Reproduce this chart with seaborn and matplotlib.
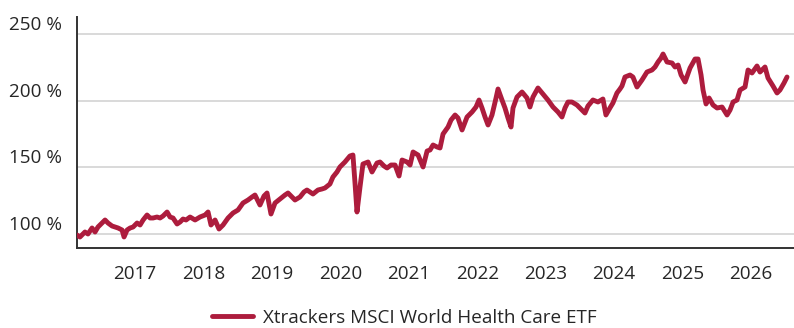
import matplotlib
matplotlib.use("Agg")
import matplotlib.pyplot as plt
import matplotlib.dates as mdates
import matplotlib.transforms as mtransforms
from matplotlib.ticker import FuncFormatter
import numpy as np
import pandas as pd
import seaborn as sns

# Fund performance, indexed to 100 % at inception (time given as decimal years)
series_name = "Xtrackers MSCI World Health Care ETF"
years = [
    2016.153, 2016.196, 2016.269, 2016.313, 2016.372, 2016.416, 2016.459, 2016.518,
    2016.562, 2016.605, 2016.664, 2016.708, 2016.752, 2016.810, 2016.839, 2016.883,
    2016.927, 2016.971, 2017.029, 2017.073, 2017.117, 2017.175, 2017.219, 2017.263,
    2017.321, 2017.365, 2017.409, 2017.468, 2017.511, 2017.555, 2017.614, 2017.658,
    2017.701, 2017.745, 2017.804, 2017.877, 2017.950, 2018.023, 2018.067, 2018.110,
    2018.169, 2018.227, 2018.286, 2018.359, 2018.432, 2018.505, 2018.578, 2018.651,
    2018.710, 2018.753, 2018.826, 2018.885, 2018.929, 2018.987, 2019.046, 2019.119,
    2019.192, 2019.236, 2019.294, 2019.338, 2019.411, 2019.469, 2019.513, 2019.601,
    2019.674, 2019.732, 2019.776, 2019.849, 2019.893, 2019.952, 2019.995, 2020.068,
    2020.141, 2020.185, 2020.215, 2020.244, 2020.288, 2020.331, 2020.405, 2020.463,
    2020.536, 2020.580, 2020.638, 2020.682, 2020.741, 2020.799, 2020.857, 2020.901,
    2020.974, 2021.018, 2021.062, 2021.135, 2021.208, 2021.267, 2021.310, 2021.354,
    2021.413, 2021.456, 2021.500, 2021.573, 2021.617, 2021.676, 2021.719, 2021.778,
    2021.851, 2021.924, 2021.982, 2022.026, 2022.070, 2022.114, 2022.158, 2022.216,
    2022.275, 2022.304, 2022.362, 2022.406, 2022.450, 2022.494, 2022.523, 2022.582,
    2022.655, 2022.728, 2022.771, 2022.815, 2022.888, 2022.961, 2023.034, 2023.108,
    2023.181, 2023.239, 2023.283, 2023.327, 2023.385, 2023.458, 2023.531, 2023.575,
    2023.619, 2023.692, 2023.765, 2023.838, 2023.882, 2023.940, 2023.984, 2024.043,
    2024.087, 2024.116, 2024.160, 2024.233, 2024.276, 2024.335, 2024.408, 2024.481,
    2024.554, 2024.598, 2024.642, 2024.686, 2024.715, 2024.773, 2024.846, 2024.890,
    2024.934, 2024.978, 2025.036, 2025.109, 2025.182, 2025.226, 2025.270, 2025.299,
    2025.343, 2025.387, 2025.445, 2025.504, 2025.577, 2025.650, 2025.694, 2025.738,
    2025.796, 2025.840, 2025.913, 2025.957, 2026.015, 2026.088, 2026.132, 2026.205,
    2026.249, 2026.322, 2026.381, 2026.424, 2026.483, 2026.527,
]
performance = [
    99.25, 97.75, 101.5, 100.0, 104.5, 101.5, 105.25, 108.25,
    110.5, 108.25, 106.0, 105.25, 104.5, 103.0, 97.75, 103.0,
    104.5, 105.25, 108.25, 106.75, 110.5, 114.25, 112.0, 112.0,
    112.75, 112.0, 113.5, 116.5, 112.75, 112.0, 107.5, 109.0,
    111.25, 110.5, 112.75, 110.5, 112.75, 114.25, 116.5, 106.75,
    110.5, 103.75, 106.75, 112.0, 115.75, 118.0, 123.25, 125.5,
    127.75, 129.25, 121.75, 128.5, 130.75, 115.0, 123.25, 126.25,
    129.25, 130.75, 127.75, 125.5, 127.75, 131.5, 133.0, 130.0,
    133.0, 133.75, 134.5, 137.5, 142.75, 146.5, 150.25, 154.0,
    158.5, 159.25, 138.25, 116.5, 135.25, 152.5, 154.0, 146.5,
    153.25, 154.0, 151.0, 149.5, 151.75, 151.75, 143.5, 155.5,
    154.0, 151.75, 161.5, 159.25, 150.25, 162.25, 163.0, 166.75,
    165.25, 164.5, 175.0, 180.25, 185.5, 189.25, 187.0, 178.0,
    187.75, 191.5, 195.25, 200.5, 194.5, 187.75, 181.75, 189.25,
    202.0, 208.75, 200.5, 194.5, 187.0, 180.25, 194.5, 202.75,
    206.5, 202.0, 195.25, 202.75, 209.5, 205.0, 200.5, 195.25,
    191.5, 187.75, 194.5, 199.0, 199.0, 196.75, 193.0, 190.75,
    196.0, 200.5, 199.0, 201.25, 189.25, 194.5, 198.25, 205.75,
    208.75, 211.0, 217.75, 219.25, 217.75, 210.25, 215.5, 221.5,
    223.0, 225.25, 229.0, 232.0, 235.0, 229.0, 228.25, 225.25,
    226.75, 219.25, 214.0, 224.5, 231.25, 231.25, 219.25, 208.0,
    197.5, 202.0, 196.75, 194.5, 195.25, 189.25, 193.0, 199.0,
    200.5, 208.0, 210.25, 223.0, 220.75, 226.0, 221.5, 225.25,
    217.0, 211.0, 205.75, 208.0, 213.25, 217.75,
]
y_ticks = [100, 150, 200, 250]
x_range_years = (2016.153, 2026.629)
y_range = (89.5, 262.75)

LINE_COLOR = "#AD1C3D"
TEXT_COLOR = "#262626"
GRID_COLOR = "#D9D9D9"
SPINE_COLOR = "#333333"
FONT_SIZE = 13.6


def to_timestamp(t):
    """Convert a decimal year into a pandas Timestamp."""
    year = int(np.floor(t))
    start = pd.Timestamp(year=year, month=1, day=1)
    end = pd.Timestamp(year=year + 1, month=1, day=1)
    return start + (t - year) * (end - start)


df = pd.DataFrame({
    "date": [to_timestamp(t) for t in years],
    "value": performance,
    "series": series_name,
})

sns.set_theme(style="white")
plt.rcParams["font.family"] = ["Open Sans", "DejaVu Sans"]
plt.rcParams["text.color"] = TEXT_COLOR

fig = plt.figure(figsize=(7.94, 3.28), dpi=100)
ax = fig.add_axes([77 / 794, 80 / 328, 717 / 794, 231 / 328])

sns.lineplot(data=df, x="date", y="value", hue="series",
             palette=[LINE_COLOR], linewidth=3.5, ax=ax, legend=False,
             zorder=3)

ax.set_xlim(to_timestamp(x_range_years[0]), to_timestamp(x_range_years[1]))
ax.set_ylim(*y_range)
ax.set_yticks(y_ticks)
ax.yaxis.set_major_formatter(FuncFormatter(lambda v, _: f"{v:.0f} %"))
ax.xaxis.set_major_locator(mdates.YearLocator())
ax.xaxis.set_major_formatter(mdates.DateFormatter("%Y"))

ax.set_xlabel("")
ax.set_ylabel("")

# Horizontal grid only
ax.grid(False)
for v in y_ticks:
    ax.axhline(v, color=GRID_COLOR, linewidth=1.4, zorder=1)

for side in ("top", "right"):
    ax.spines[side].set_visible(False)
for side in ("left", "bottom"):
    ax.spines[side].set_color(SPINE_COLOR)
    ax.spines[side].set_linewidth(1.4)

ax.tick_params(axis="both", length=0, labelsize=FONT_SIZE, colors=TEXT_COLOR)
ax.tick_params(axis="x", pad=12.5)
ax.tick_params(axis="y", pad=10.5)

# Lift the y labels so they sit above their grid lines
lift = mtransforms.ScaledTranslation(0, 11 / 100, fig.dpi_scale_trans)
for lbl in ax.get_yticklabels():
    lbl.set_transform(lbl.get_transform() + lift)

handle = plt.Line2D([], [], color=LINE_COLOR, linewidth=3.5)
fig.legend([handle], [series_name], loc="center",
           bbox_to_anchor=(404 / 794, 10 / 328), frameon=False,
           fontsize=FONT_SIZE, handlelength=2.2, handletextpad=0.5,
           borderpad=0)

fig.savefig("out.png", dpi=100)
